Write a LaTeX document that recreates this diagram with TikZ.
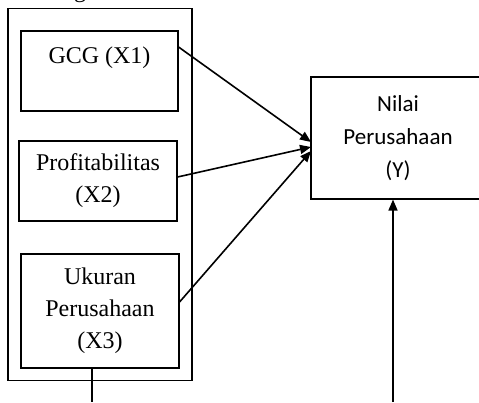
\documentclass[tikz,border=0pt]{standalone}
\usepackage{fontspec}
\setmainfont{Liberation Serif}
\newfontfamily\calib{Carlito}
\usetikzlibrary{arrows.meta}
\tikzset{
  box/.style={draw, line width=1.1pt, inner sep=0pt, align=center,
    font=\fontsize{24}{32}\selectfont},
  ybox/.style={draw, line width=1.1pt, inner sep=0pt, align=center,
    font=\calib\fontsize{23}{33}\selectfont},
  conn/.style={line width=1.6pt, -{Triangle[length=11pt,width=9pt]}},
  plain/.style={line width=1.6pt}
}
\begin{document}
\begin{tikzpicture}[x=1pt,y=-1pt]
\useasboundingbox (0,0) rectangle (479,402);
\clip (0,0) rectangle (479,402);
\node[font=\fontsize{24}{32}\selectfont, anchor=base, inner sep=0pt] (cut) at (80,-3) {g};
\node[box, minimum width=184, minimum height=372] (frame) at (100,194.5) {};
\node[box, minimum width=157, minimum height=80] (x1) at (99.5,71) {GCG (X1)\\~};
\node[box, minimum width=158, minimum height=80] (x2) at (98,181) {Profitabilitas\\(X2)};
\node[box, minimum width=158, minimum height=114] (x3) at (100,311) {Ukuran\\Perusahaan\\(X3)};
\node[ybox, minimum width=174, minimum height=122] (y) at (398,138) {Nilai\\Perusahaan\\(Y)};
\coordinate (t1) at (311,142);
\coordinate (t2) at (311,147);
\coordinate (t3) at (311,151);
\draw[conn] (x1.east |- 0,47) -- (t1);
\draw[conn] (x2.east |- 0,177) -- (t2);
\draw[conn] (x3.east |- 0,302) -- (t3);
\coordinate (b1) at (92,402);
\coordinate (b2) at (393,402);
\draw[plain] (x3.south -| b1) -- (b1);
\draw[conn] (b2) -- (y.south -| b2);
\end{tikzpicture}
\end{document}
